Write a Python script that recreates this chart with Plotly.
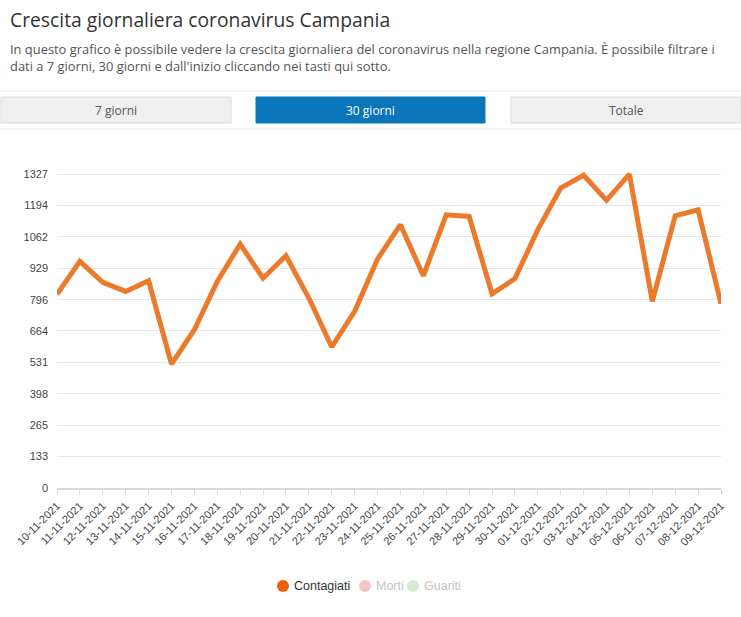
import plotly.graph_objects as go

W, H = 741, 617
ML, MR, MT, MB = 57, 20, 171, 129

giorni = ['10-11-2021', '11-11-2021', '12-11-2021', '13-11-2021', '14-11-2021',
          '15-11-2021', '16-11-2021', '17-11-2021', '18-11-2021', '19-11-2021',
          '20-11-2021', '21-11-2021', '22-11-2021', '23-11-2021', '24-11-2021',
          '25-11-2021', '26-11-2021', '27-11-2021', '28-11-2021', '29-11-2021',
          '30-11-2021', '01-12-2021', '02-12-2021', '03-12-2021', '04-12-2021',
          '05-12-2021', '06-12-2021', '07-12-2021', '08-12-2021', '09-12-2021']
contagiati = [819, 958, 869, 831, 876, 524, 669, 873, 1031, 887,
              982, 803, 596, 747, 968, 1113, 897, 1155, 1148, 821,
              885, 1092, 1268, 1322, 1216, 1327, 789, 1151, 1176, 779]
y_ticks = [0, 133, 265, 398, 531, 664, 796, 929, 1062, 1194, 1327]
bottoni = ['7 giorni', '30 giorni', 'Totale']
serie = ['Contagiati', 'Morti', 'Guariti']
titolo = 'Crescita giornaliera coronavirus Campania'
descrizione = ("In questo grafico è possibile vedere la crescita giornaliera del coronavirus "
               "nella regione Campania. È possibile filtrare i<br>dati a 7 giorni, 30 giorni "
               "e dall'inizio cliccando nei tasti qui sotto.")

pw = W - ML - MR
ph = H - MT - MB


def px_x(x):
    # page pixel -> paper x
    return (x - ML) / pw


def px_y(y):
    # page pixel -> paper y
    return (H - MB - y) / ph


fig = go.Figure()

fig.add_trace(go.Scatter(x=giorni, y=contagiati, mode='lines', name='Contagiati',
                         line=dict(color='#ec7a2d', width=5),
                         showlegend=False, hoverinfo='x+y'))

shapes = []
annotations = []

# thin separators around the button bar
for yy in (91, 129):
    shapes.append(dict(type='line', xref='paper', yref='paper',
                       x0=px_x(0), x1=px_x(W), y0=px_y(yy), y1=px_y(yy),
                       line=dict(color='#e6e6e6', width=1)))

bx = [(1, 231), (256, 485), (511, 741)]
for (x0, x1), lab in zip(bx, bottoni):
    active = lab == '30 giorni'
    shapes.append(dict(type='rect', xref='paper', yref='paper',
                       x0=px_x(x0), x1=px_x(x1), y0=px_y(123), y1=px_y(97),
                       fillcolor='#0a76b9' if active else '#efefef',
                       line=dict(color='#0a76b9' if active else '#dddddd', width=1)))
    annotations.append(dict(text=lab, xref='paper', yref='paper',
                            x=px_x((x0 + x1) / 2), y=px_y(110), showarrow=False,
                            xanchor='center', yanchor='middle',
                            font=dict(family='Open Sans', size=12,
                                      color='#ffffff' if active else '#555555')))

annotations.append(dict(text=titolo, xref='paper', yref='paper',
                        x=px_x(8), y=px_y(19), showarrow=False,
                        xanchor='left', yanchor='middle',
                        font=dict(family='Open Sans', size=19.3, color='#333333')))
annotations.append(dict(text=descrizione, xref='paper', yref='paper',
                        x=px_x(8), y=px_y(57), showarrow=False, align='left',
                        xanchor='left', yanchor='middle',
                        font=dict(family='Open Sans', size=12.9, color='#555555')))

# legend (Morti and Guariti are switched off, so they are drawn faded)
leg_x = [283, 365, 413]
leg_dot = ['#e8600a', '#f6c6c6', '#d5ead1']
leg_txt = ['#333333', '#c4c4c4', '#c4c4c4']
for nome, cx, dc, tc in zip(serie, leg_x, leg_dot, leg_txt):
    shapes.append(dict(type='circle', xref='paper', yref='paper',
                       x0=px_x(cx - 6), x1=px_x(cx + 6), y0=px_y(592), y1=px_y(580),
                       fillcolor=dc, line=dict(width=0)))
    annotations.append(dict(text=nome, xref='paper', yref='paper',
                            x=px_x(cx + 9), y=px_y(586), showarrow=False,
                            xanchor='left', yanchor='middle',
                            font=dict(family='Liberation Sans', size=12.5, color=tc)))

fig.update_layout(
    width=W, height=H,
    margin=dict(l=ML, r=MR, t=MT, b=MB),
    paper_bgcolor='white', plot_bgcolor='white',
    font=dict(family='Liberation Sans', size=11, color='#444444'),
    shapes=shapes, annotations=annotations,
    showlegend=False,
    xaxis=dict(type='category', range=[0, len(giorni) - 1], tickangle=-45,
               showgrid=False, showline=True, linecolor='#d9d9d9', linewidth=2,
               ticks='outside', ticklen=5, tickcolor='#d9d9d9',
               tickfont=dict(family='Liberation Sans', size=11, color='#444444')),
    yaxis=dict(range=[0, 1340], tickvals=y_ticks, ticktext=[str(v) for v in y_ticks],
               showgrid=True, gridcolor='#e6e6e6', gridwidth=1,
               zeroline=False, showline=False, ticks='', ticklabelstandoff=8,
               tickfont=dict(family='Liberation Sans', size=11, color='#444444')),
)

# drop the default page margin so the figure sits at the window's top-left corner
fig.write_html("out.html", config={'displayModeBar': False},
               post_script="document.body.style.margin='0';document.body.style.overflow='hidden';")
